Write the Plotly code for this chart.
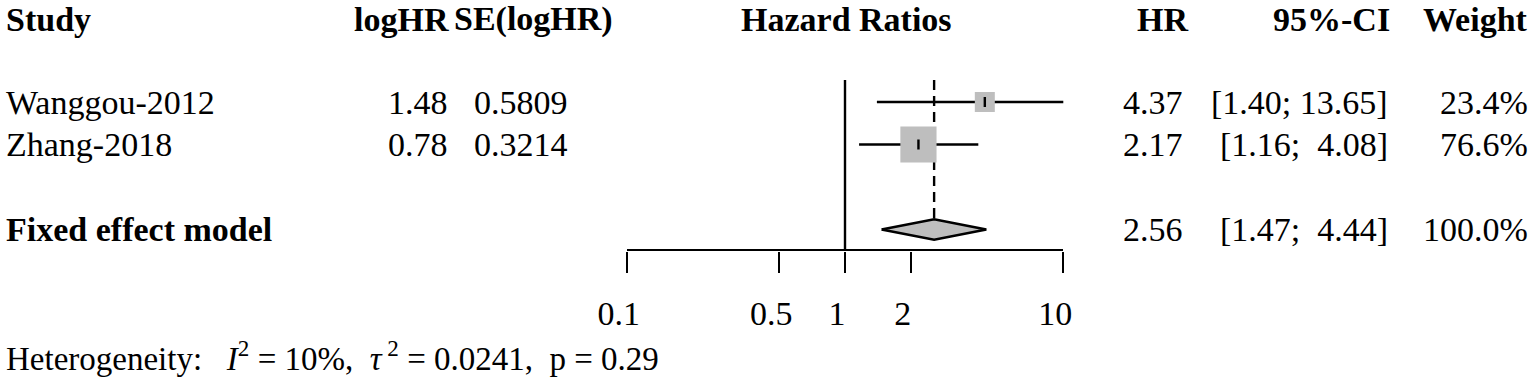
import math
import plotly.graph_objects as go

# ---------------- data ----------------
studies = ["Wanggou-2012", "Zhang-2018"]
log_hr = [1.48, 0.78]
se_log_hr = [0.5809, 0.3214]
hr = [4.37, 2.17]
ci_low = [1.40, 1.16]
ci_high = [13.65, 4.08]
weights = [23.4, 76.6]

pooled_label = "Fixed effect model"
pooled_hr = 2.56
pooled_low = 1.47
pooled_high = 4.44
pooled_weight = 100.0

het_i2 = "10%"
het_tau2 = "0.0241"
het_p = "0.29"

tick_vals = [0.1, 0.5, 1, 2, 10]
tick_text = ["0.1", "0.5", "1", "2", "10"]
ref_value = 1

headers = ["Study", "logHR", "SE(logHR)", "Hazard Ratios", "HR", "95%-CI", "Weight"]

# ---------------- layout helpers ----------------
W, H = 1536, 380
FONT = "Liberation Serif"
FS = 34
GRAY = "#bebebe"
LW = 2.4

header_row = 0.05
study_rows = [2 + i for i in range(len(studies))]
pooled_row = study_rows[-1] + 2
row_top = -0.4
row_bottom = 5.466
line_top = 1.48
diamond_half = 0.24
tick_half = 0.12

def px(x):
    return x / W

def py(y):
    return (H - y) / H

NB = "\u00a0"

def ci_text(lo, hi):
    return "[" + f"{lo:.2f};" + NB + f"{hi:5.2f}".replace(" ", NB) + "]"

fig = go.Figure()

# CI lines
for r, lo, hi in zip(study_rows, ci_low, ci_high):
    fig.add_trace(go.Scatter(x=[lo, hi], y=[r, r], mode="lines",
                             line=dict(color="black", width=LW), hoverinfo="skip"))

# reference line (no effect)
fig.add_trace(go.Scatter(x=[ref_value, ref_value], y=[line_top, row_bottom], mode="lines",
                         line=dict(color="black", width=LW), hoverinfo="skip"))
# pooled estimate dashed line
fig.add_trace(go.Scatter(x=[pooled_hr, pooled_hr], y=[line_top, pooled_row - diamond_half],
                         mode="lines", line=dict(color="black", width=LW, dash="10px,6px"),
                         hoverinfo="skip"))

# squares sized by weight
k = 20 / math.sqrt(min(weights))
fig.add_trace(go.Scatter(x=hr, y=study_rows, mode="markers",
                         marker=dict(symbol="square", color=GRAY, opacity=1,
                                     size=[k * math.sqrt(w) for w in weights],
                                     line=dict(width=0)),
                         hoverinfo="skip"))
# point estimate ticks
for r, h in zip(study_rows, hr):
    fig.add_trace(go.Scatter(x=[h, h], y=[r - tick_half, r + tick_half], mode="lines",
                             line=dict(color="black", width=LW), hoverinfo="skip"))

# diamond
fig.add_trace(go.Scatter(
    x=[pooled_low, pooled_hr, pooled_high, pooled_hr, pooled_low],
    y=[pooled_row, pooled_row - diamond_half, pooled_row, pooled_row + diamond_half, pooled_row],
    mode="lines", fill="toself", fillcolor=GRAY,
    line=dict(color="black", width=LW), hoverinfo="skip"))

# ---------------- text ----------------
ann = []

def add(text, x, row, anchor, bold=False, size=FS, yref="y"):
    t = f"<b>{text}</b>" if bold else text
    ann.append(dict(text=t, x=px(x), xref="paper", y=row, yref=yref,
                    xanchor=anchor, yanchor="middle", showarrow=False,
                    font=dict(family=FONT, size=size, color="black")))

LEFT = 4
# headers
add(headers[0], LEFT, header_row, "left", True)
add(headers[1], 451, header_row, "right", True)
add(headers[2], 615, header_row, "right", True)
add(headers[3], 846, header_row, "center", True)
add(headers[4], 1190, header_row, "right", True)
add(headers[5], 1392, header_row, "right", True)
add(headers[6], 1530, header_row, "right", True)

for i, r in enumerate(study_rows):
    add(studies[i], LEFT, r, "left")
    add(f"{log_hr[i]:.2f}", 450, r, "right")
    add(f"{se_log_hr[i]:.4f}", 570, r, "right")
    add(f"{hr[i]:.2f}", 1185, r, "right")
    add(ci_text(ci_low[i], ci_high[i]), 1390, r, "right")
    add(f"{weights[i]:.1f}%", 1530, r, "right")

add(pooled_label, LEFT, pooled_row, "left", True)
add(f"{pooled_hr:.2f}", 1185, pooled_row, "right")
add(ci_text(pooled_low, pooled_high), 1390, pooled_row, "right")
add(f"{pooled_weight:.1f}%", 1530, pooled_row, "right")

het = ("Heterogeneity:" + NB * 3 + "<i>I</i><sup>2</sup> = " + het_i2 + "," + NB * 2 +
       "<i>τ</i><sup> 2</sup> = " + het_tau2 + "," + NB * 2 + "p = " + het_p)
add(het, LEFT, py(356), "left", size=33, yref="paper")

fig.update_layout(
    width=W, height=H,
    margin=dict(l=0, r=0, t=0, b=0, autoexpand=False),
    paper_bgcolor="white", plot_bgcolor="white",
    showlegend=False,
    annotations=ann,
    xaxis=dict(type="log", range=[-1, 1],
               domain=[px(626.7), px(1063.3)],
               showline=True, linecolor="black", linewidth=LW,
               ticks="outside", ticklen=21, tickwidth=LW, tickcolor="black",
               tickvals=tick_vals, ticktext=tick_text,
               ticklabelshift=-8, ticklabelstandoff=12,
               tickfont=dict(family=FONT, size=FS, color="black"),
               showgrid=False, zeroline=False, automargin=False),
    yaxis=dict(range=[row_bottom, row_top], domain=[py(249.3), 1],
               visible=False, showgrid=False, zeroline=False, automargin=False),
)

fig.write_html("out.html", config={"displayModeBar": False},
               post_script="document.body.style.margin='0';document.body.style.padding='0';")
